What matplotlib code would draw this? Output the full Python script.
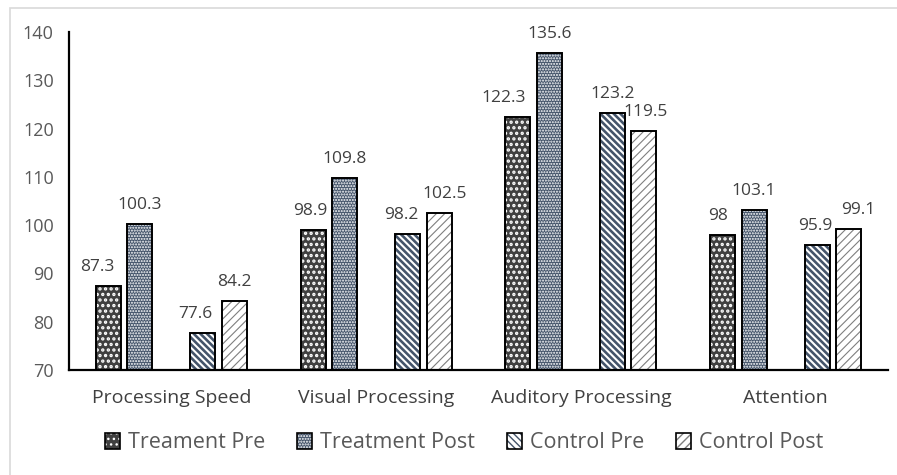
import numpy as np
import matplotlib as mpl
mpl.use("Agg")
import matplotlib.pyplot as plt
from matplotlib.patches import Rectangle, Patch

plt.rcParams['font.family'] = ['Open Sans', 'DejaVu Sans']

categories = ["Processing Speed", "Visual Processing", "Auditory Processing", "Attention"]
series = ["Treament Pre", "Treatment Post", "Control Pre", "Control Post"]
treat_pre = [87.3, 98.9, 122.3, 98]
treat_post = [100.3, 109.8, 135.6, 103.1]
ctrl_pre = [77.6, 98.2, 123.2, 95.9]
ctrl_post = [84.2, 102.5, 119.5, 99.1]
values = [treat_pre, treat_post, ctrl_pre, ctrl_post]

# horizontal nudges of the data labels (pixels), as placed in the original
label_dx = [[-11, -2.5, -14, -4.5],
            [0, 0, 0, 0],
            [-8, -6.5, 0, -1.5],
            [0, 5.5, 2, 10]]

# slot index within group (slot 2 is an empty gap)
slots = [0, 1, 3, 4]
faces = ["#404040", "#44546A", "white", "white"]
hatch_cols = ["white", "white", "#44546A", "#7F7F7F"]
hatches = ["...", "......", "\\" * 5, "////"]
hatch_lw = [1.6, 1.0, 1.9, 0.8]

fig = plt.figure(figsize=(8.97, 4.75), dpi=100)
ax = fig.add_axes([69/897, 1-370/475, (888-69)/897, (370-32)/475])

x = np.arange(len(categories))
pitch = 0.154
bw = 0.122
handles = []
for i, vals in enumerate(values):
    pos = x + (slots[i] - 2) * pitch
    with mpl.rc_context({'hatch.linewidth': hatch_lw[i]}):
        bars = ax.bar(pos, np.array(vals) - 70, bw, bottom=70, color=faces[i],
                      edgecolor=hatch_cols[i], hatch=hatches[i], linewidth=0)
        for b in bars:
            if hasattr(b, "set_hatch_linewidth"):
                b.set_hatch_linewidth(hatch_lw[i])
    ax.bar(pos, np.array(vals) - 70, bw, bottom=70, fill=False,
           edgecolor="black", linewidth=1.4)
    for p, v, dx in zip(pos, vals, label_dx[i]):
        ax.annotate(f"{v:g}", (p, v), xytext=(dx * 0.72, 8), textcoords="offset points",
                    ha="center", va="bottom", fontsize=12.5, color="#404040")
    with mpl.rc_context({'hatch.linewidth': hatch_lw[i]}):
        hp = Patch(facecolor=faces[i], edgecolor=hatch_cols[i], hatch=hatches[i], linewidth=0)
    op = Patch(fill=False, edgecolor="black", linewidth=1.2)
    handles.append((hp, op))

ax.set_xlim(-0.5, len(categories) - 0.5)
ax.set_ylim(70, 140)
ax.set_yticks(np.arange(70, 141, 10))
ax.set_xticks(x)
ax.set_xticklabels(categories, fontsize=14, color="#404040")
ax.tick_params(axis='y', length=0, labelsize=13, labelcolor="#595959", pad=11)
ax.tick_params(axis='x', length=0, pad=14)
for s in ["top", "right"]:
    ax.spines[s].set_visible(False)
ax.spines["left"].set_linewidth(1.6)
ax.spines["bottom"].set_linewidth(1.6)

leg = fig.legend(handles, series, loc="center", bbox_to_anchor=(464/897, 1-443/475),
                 ncol=4, frameon=False, fontsize=15.5, handlelength=0.7,
                 handleheight=0.7, handletextpad=0.35, columnspacing=1.5)
for t in leg.get_texts():
    t.set_color("#595959")

# outer chart border
fig.patches.append(Rectangle((10/897, -0.1), 1.1, 1-8/475 + 0.1, transform=fig.transFigure,
                             fill=False, edgecolor="#D9D9D9", linewidth=1.2))

plt.savefig("out.png", dpi=100)
